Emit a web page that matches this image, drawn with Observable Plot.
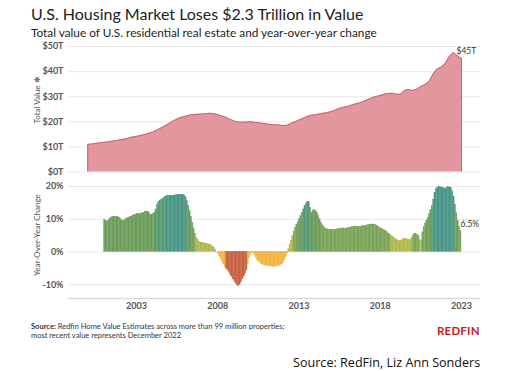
<!DOCTYPE html>
<html><head><meta charset="utf-8">
<script src="https://cdn.jsdelivr.net/npm/d3@7"></script>
<script src="https://cdn.jsdelivr.net/npm/@observablehq/plot@0.6"></script>
<style>
html,body{margin:0;padding:0;background:#fff;}
body{width:506px;height:371px;position:relative;overflow:hidden;font-family:Lato,"Open Sans",sans-serif;}
#title{position:absolute;left:31px;top:4px;font-size:16px;color:#222;white-space:nowrap;}
#subtitle{position:absolute;left:31px;top:25px;font-size:11.8px;color:#222;white-space:nowrap;}
#top{position:absolute;left:0;top:40px;}
#bottom{position:absolute;left:0;top:176px;}
.ylab{position:absolute;font-size:8px;color:#555;white-space:nowrap;transform:translate(-50%,-50%) rotate(-90deg);}
#src{position:absolute;left:31px;top:322px;font-size:7.5px;line-height:9px;color:#333;white-space:nowrap;}
#logo{position:absolute;left:437px;top:324px;font-size:11.5px;font-weight:bold;color:#c82021;letter-spacing:0.2px;}
#credit{position:absolute;left:293px;top:354px;font-size:12.6px;color:#111;font-family:"Open Sans",sans-serif;white-space:nowrap;}
</style></head><body>
<div id="title">U.S. Housing Market Loses $2.3 Trillion in Value</div>
<div id="subtitle">Total value of U.S. residential real estate and year-over-year change</div>
<div id="top"></div>
<div id="bottom"></div>
<div class="ylab" style="left:37px;top:100px;">Total Value <span style="color:#777">✱</span></div>
<div class="ylab" style="left:37px;top:235px;">Year-Over-Year Change</div>
<div id="src"><b>Source:</b> Redfin Home Value Estimates across more than 99 million properties;<br>most recent value represents December 2022</div>
<div id="logo">REDFIN</div>
<div id="credit">Source: RedFin, Liz Ann Sonders</div>
<script>
// Total value, trillions of dollars, quarterly from 2000 Q1 (last point = Dec 2022)
const totalValue = [
  11.0, 11.2, 11.4, 11.6,
  11.8, 12.0, 12.3, 12.5,
  12.8, 13.1, 13.5, 13.9,
  14.2, 14.5, 14.9, 15.4,
  15.9, 16.6, 17.5, 18.4,
  19.3, 20.3, 21.1, 21.8,
  22.2, 22.6, 22.9, 23.0,
  23.1, 23.2, 23.4, 23.2,
  22.9, 22.3, 21.8, 21.0,
  20.3, 19.9, 19.8, 19.9,
  20.0, 19.8, 19.6, 19.4,
  19.2, 18.9, 18.8, 18.7,
  18.5, 18.6, 19.3, 20.0,
  20.7, 21.4, 22.1, 22.6,
  22.8, 23.1, 23.4, 23.7,
  24.1, 24.7, 25.4, 25.8,
  26.1, 26.7, 27.2, 27.6,
  28.2, 28.9, 29.6, 30.1,
  30.5, 31.0, 31.3, 31.4,
  31.0, 31.0, 32.5, 32.9,
  32.5, 33.0, 34.1, 34.8,
  36.0, 39.0, 41.0, 41.8,
  43.2, 46.0, 47.6, 46.3,
  45.3
];
const totalStartYear = 2000;

// Year-over-year change, %, monthly from Jan 2001 to Dec 2022
const yoyChange = [
  9.9, 9.6, 9.3, 9.5, 10.0, 10.5, 10.7, 10.8, 10.7, 10.7, 10.6, 10.5,
  10.0, 9.5, 9.4, 9.7, 10.0, 10.3, 10.5, 10.6, 10.8, 11.0, 11.2, 11.4,
  11.5, 11.5, 11.6, 11.7, 11.8, 12.0, 12.2, 12.4, 12.3, 12.0, 11.4, 11.3,
  11.5, 12.0, 13.0, 14.3, 15.2, 15.6, 15.8, 16.2, 16.6, 16.9, 17.0, 17.1,
  17.2, 17.2, 17.1, 17.2, 17.3, 17.3, 17.4, 17.4, 17.5, 17.5, 17.4, 17.3,
  16.8, 15.5, 14.2, 12.5, 10.8, 9.0, 7.2, 5.5, 4.4, 3.6, 3.1, 2.9,
  2.8, 2.7, 2.6, 2.5, 2.4, 2.3, 2.2, 2.0, 1.7, 1.2, 0.6, 0.0,
  -0.6, -1.4, -2.2, -3.0, -3.8, -4.6, -5.1, -5.6, -6.2, -6.9, -7.6, -8.4,
  -8.8, -9.6, -10.2, -10.4, -10.0, -9.2, -8.3, -7.5, -6.6, -5.6, -3.8, -2.0,
  -0.8, -0.2, -0.4, -1.0, -1.8, -2.6, -3.0, -3.4, -3.7, -3.9, -4.1, -4.2,
  -4.2, -4.3, -4.4, -4.4, -4.5, -4.5, -4.5, -4.4, -4.4, -4.3, -4.1, -3.8,
  -3.3, -2.6, -1.6, -0.5, 0.8, 2.2, 3.4, 4.8, 6.2, 7.4, 8.4, 9.2,
  10.0, 11.0, 12.0, 13.0, 14.0, 14.8, 15.4, 15.2, 13.5, 12.0, 12.6, 12.8,
  12.6, 12.0, 11.0, 10.0, 9.0, 8.2, 7.6, 7.2, 7.0, 6.9, 6.8, 6.8,
  6.8, 6.7, 6.7, 6.8, 6.9, 7.0, 7.0, 7.1, 7.2, 7.2, 7.1, 7.2,
  7.3, 7.4, 7.5, 7.6, 7.7, 7.8, 7.8, 7.7, 7.6, 7.7, 7.8, 7.9,
  7.9, 8.0, 8.1, 8.2, 8.3, 8.4, 8.4, 8.4, 8.3, 8.1, 7.8, 7.5,
  7.2, 7.0, 6.8, 6.6, 6.3, 6.0, 5.6, 5.2, 4.8, 4.5, 4.2, 3.9,
  3.6, 3.4, 3.3, 3.4, 3.6, 4.0, 4.1, 4.0, 3.8, 3.6, 3.6, 4.2,
  5.0, 5.6, 5.4, 5.2, 5.0, 3.6, 3.5, 6.0, 7.6, 8.6, 9.6, 10.5,
  11.5, 12.8, 14.0, 16.0, 18.0, 19.2, 19.6, 19.9, 19.9, 19.7, 19.5, 19.4,
  19.4, 19.6, 19.8, 19.7, 19.5, 18.5, 16.9, 14.5, 11.8, 9.5, 7.8, 6.5
];
const yoyStartYear = 2001;

const valueTicks = [0, 10, 20, 30, 40, 50];
const yoyTicks = [-10, 0, 10, 20];
const yearTicks = [2003, 2008, 2013, 2018, 2023];
const colorThresholds = [-5, 0, 5, 9, 13, 17];
const colorRange = ["#c6613f", "#f1b540", "#b1b84c", "#7aa358", "#6c9d5b", "#569a74", "#489586"];
const lastValueLabel = "$45T";
const lastYoyLabel = "6.5%";

const topData = totalValue.map((v, i) => ({t: totalStartYear + i / 4, v}));
const yoyData = yoyChange.map((v, i) => ({t1: yoyStartYear + i / 12, t2: yoyStartYear + (i + 1) / 12, v}));
const lastTop = topData[topData.length - 1];
const firstTop = topData[0];
const lastYoy = yoyData[yoyData.length - 1];

const xDomain = [1998.815, 2024.17];
const baseStyle = {fontFamily: "Lato, 'Open Sans', sans-serif", fontSize: "9px", fontWeight: "bold", color: "#555", background: "transparent"};

const topPlot = Plot.plot({
  width: 506, height: 136,
  marginLeft: 68, marginRight: 26, marginTop: 6, marginBottom: 4.5,
  style: baseStyle,
  x: {domain: xDomain, axis: null},
  y: {domain: [0, 50], ticks: valueTicks, tickFormat: d => `$${d}T`, tickSize: 0, tickPadding: 5, label: null},
  marks: [
    Plot.ruleY(valueTicks, {stroke: "#e9e9e9", strokeWidth: 1}),
    Plot.areaY(topData, {x: "t", y: "v", fill: "#e2979f"}),
    Plot.lineY(topData, {x: "t", y: "v", stroke: "#c9636e", strokeWidth: 1}),
    Plot.ruleX([firstTop, lastTop], {x: "t", y1: 0, y2: "v", stroke: "#c9636e", strokeWidth: 1}),
    Plot.text([lastTop], {x: "t", y: "v", text: () => lastValueLabel, textAnchor: "start", dx: -5, dy: -7, fill: "#333", fontSize: 8.5, fontWeight: "normal"})
  ]
});
document.getElementById("top").appendChild(topPlot);

const bottomPlot = Plot.plot({
  width: 506, height: 142,
  marginLeft: 68, marginRight: 26, marginTop: 5.1, marginBottom: 20,
  style: baseStyle,
  x: {domain: xDomain, ticks: yearTicks, tickFormat: d => String(d), tickSize: 0, tickPadding: 4, label: null},
  y: {domain: [-14.2, 21.5], ticks: yoyTicks, tickFormat: d => `${d}%`, tickSize: 0, tickPadding: 5, label: null},
  color: {type: "threshold", domain: colorThresholds, range: colorRange},
  marks: [
    Plot.ruleY(yoyTicks, {stroke: "#e9e9e9", strokeWidth: 1}),
    Plot.ruleY([-14.2], {stroke: "#dcdcdc", strokeWidth: 1.5}),
    Plot.rectY(yoyData, {x1: "t1", x2: "t2", y1: 0, y2: "v", fill: "v", stroke: "v", strokeWidth: 0.3}),
    Plot.text([lastYoy], {x: "t2", y: "v", text: () => lastYoyLabel, textAnchor: "start", dx: -1, dy: -6, fill: "#333", fontSize: 8.5, fontWeight: "normal"})
  ]
});
document.getElementById("bottom").appendChild(bottomPlot);
</script>
</body></html>
